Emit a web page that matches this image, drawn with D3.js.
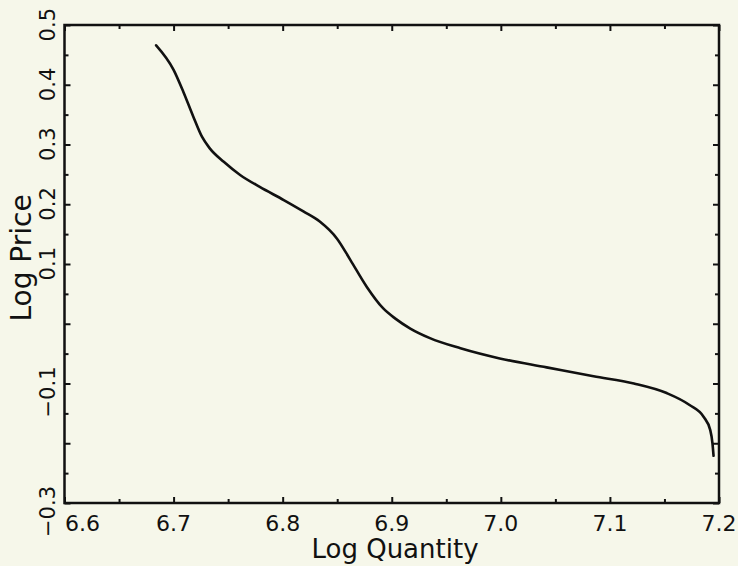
<!DOCTYPE html>
<html>
<head>
<meta charset="utf-8">
<script src="https://cdn.jsdelivr.net/npm/d3@7"></script>
<style>
  html, body { margin: 0; padding: 0; background: #f6f7ea; }
  svg { display: block; }
  text { font-family: "DejaVu Sans", sans-serif; fill: #111; }
</style>
</head>
<body>
<script>
// ---- data ----
const logQuantity = [6.684, 6.700, 6.709, 6.718, 6.726, 6.733, 6.746, 6.761, 6.779, 6.801,
  6.819, 6.834, 6.850, 6.862, 6.877, 6.892, 6.903, 6.917, 6.935, 6.963,
  6.999, 7.042, 7.085, 7.122, 7.152, 7.173, 7.186, 7.192, 7.194, 7.195];
const logPrice = [0.466, 0.425, 0.388, 0.347, 0.313, 0.294, 0.271, 0.249, 0.229, 0.207,
  0.188, 0.171, 0.142, 0.107, 0.062, 0.026, 0.009, -0.008, -0.024, -0.041,
  -0.058, -0.073, -0.088, -0.100, -0.116, -0.136, -0.156, -0.178, -0.200, -0.221];
const xTickLabels = ["6.6", "6.7", "6.8", "6.9", "7.0", "7.1", "7.2"];
const yTickLabels = ["0.5", "0.4", "0.3", "0.2", "0.1", "-0.1", "-0.3"];
const xTitle = "Log Quantity";
const yTitle = "Log Price";

// ---- layout ----
const W = 738, H = 566;
const L = 64.5, R = 719, T = 25, B = 503;

const svg = d3.select("body").append("svg").attr("width", W).attr("height", H);
svg.append("rect").attr("width", W).attr("height", H).attr("fill", "#f6f7ea");

const x = d3.scaleLinear().domain([6.6, 7.2]).range([L, R]);
const y = d3.scaleLinear().domain([-0.3, 0.5]).range([B, T]);

const majorX = d3.range(0, 7).map(i => +(6.6 + i * 0.1).toFixed(2));
const minorX = d3.range(0, 6).map(i => +(6.65 + i * 0.1).toFixed(3));
const majorY = d3.range(0, 9).map(i => +(-0.3 + i * 0.1).toFixed(2));
const minorY = d3.range(0, 8).map(i => +(-0.25 + i * 0.1).toFixed(3));

function tickAxis(axisFn, scale, vals, size, tx, ty) {
  const g = svg.append("g").attr("transform", `translate(${tx},${ty})`)
    .call(axisFn(scale).tickValues(vals).tickSize(-size).tickSizeOuter(0).tickFormat(""));
  g.select(".domain").remove();
  g.selectAll(".tick line").attr("stroke", "#111").attr("stroke-width", 2);
}
// inward ticks on all four sides
tickAxis(d3.axisBottom, x, majorX, 6, 0, B);
tickAxis(d3.axisBottom, x, minorX, 4, 0, B);
tickAxis(d3.axisTop, x, majorX, 6, 0, T);
tickAxis(d3.axisTop, x, minorX, 4, 0, T);
tickAxis(d3.axisLeft, y, majorY, 6, L, 0);
tickAxis(d3.axisLeft, y, minorY, 4, L, 0);
tickAxis(d3.axisRight, y, majorY, 6, R, 0);
tickAxis(d3.axisRight, y, minorY, 4, R, 0);

// frame
svg.append("rect").attr("x", L).attr("y", T).attr("width", R - L).attr("height", B - T)
  .attr("fill", "none").attr("stroke", "#111").attr("stroke-width", 2.5);

// x tick labels
svg.append("g").selectAll("text").data(xTickLabels).join("text")
  .attr("x", (d, i) => x(+d) + (i === 0 ? 18 : 0))
  .attr("y", 531)
  .attr("text-anchor", "middle")
  .attr("font-size", 22)
  .text(d => d);

// y tick labels (rotated)
svg.append("g").selectAll("text").data(yTickLabels).join("text")
  .attr("transform", d => `translate(55,${y(+d) - 17}) rotate(-90)`)
  .attr("text-anchor", "end")
  .attr("font-size", 21)
  .text(d => d.replace("-", "\u2212"));

// axis titles
svg.append("text").attr("x", 395).attr("y", 558).attr("text-anchor", "middle")
  .attr("font-size", 26).text(xTitle);
svg.append("text").attr("transform", `translate(31,258) rotate(-90)`)
  .attr("text-anchor", "middle").attr("font-size", 28).text(yTitle);

// curve
const pts = logQuantity.map((q, i) => [q, logPrice[i]]);
svg.append("path").datum(pts)
  .attr("fill", "none").attr("stroke", "#111").attr("stroke-width", 2.6)
  .attr("stroke-linejoin", "round").attr("stroke-linecap", "round")
  .attr("d", d3.line().x(d => x(d[0])).y(d => y(d[1])).curve(d3.curveMonotoneX));
</script>
</body>
</html>
